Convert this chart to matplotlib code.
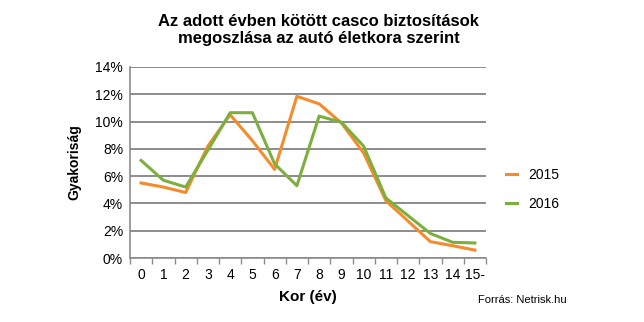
import matplotlib
matplotlib.use("Agg")
import matplotlib.pyplot as plt
import numpy as np
from matplotlib.ticker import FuncFormatter, FixedLocator

plt.rcParams["font.family"] = ["Liberation Sans", "DejaVu Sans"]

ages = ["0", "1", "2", "3", "4", "5", "6", "7", "8", "9", "10", "11", "12", "13", "14", "15-"]
share_2015 = [5.5, 5.2, 4.8, 8.2, 10.5, 8.6, 6.5, 11.85, 11.3, 9.9, 7.7, 4.2, 2.7, 1.2, 0.9, 0.58]
share_2016 = [7.15, 5.7, 5.2, 7.9, 10.65, 10.65, 6.9, 5.3, 10.4, 9.95, 8.2, 4.4, 3.1, 1.8, 1.15, 1.1]

orange = "#F68B2C"
green = "#7BAF3E"
grey = "#8C8C8C"

fig = plt.figure(figsize=(6.44, 3.22), dpi=100)
ax = fig.add_axes([130 / 644, 1 - 258 / 322, (486 - 130) / 644, (258 - 67) / 322])

x = np.arange(len(ages))
ax.plot(x, share_2015, color=orange, lw=2.2, label="2015", zorder=3)
ax.plot(x, share_2016, color=green, lw=2.2, label="2016", zorder=4)

ax.set_xlim(-0.5, len(ages) - 0.5)
ax.set_ylim(0, 14)
ax.set_yticks(np.arange(0, 15, 2))
ax.yaxis.set_major_formatter(FuncFormatter(lambda v, p: f"{v:.0f}%"))
ax.yaxis.grid(True, color=grey, lw=1.4)
ax.set_axisbelow(True)
ax.tick_params(axis="y", length=0, labelsize=10, pad=5)

ax.set_xticks(x)
ax.set_xticklabels(ages)
ax.tick_params(axis="x", which="major", length=0, labelsize=10, pad=7)
ax.xaxis.set_minor_locator(FixedLocator(np.arange(-0.5, len(ages), 1)))
ax.tick_params(axis="x", which="minor", length=4, color=grey, width=1)

for s in ["top", "right"]:
    ax.spines[s].set_visible(False)
for s in ["left", "bottom"]:
    ax.spines[s].set_color(grey)
    ax.spines[s].set_linewidth(1.2)

ax.set_xlabel("Kor (év)", fontsize=11, fontweight="bold", labelpad=6)
ax.set_ylabel("Gyakoriság", fontsize=10, fontweight="bold", labelpad=10)

fig.text(0.495, 1 - 30 / 322, "Az adott évben kötött casco biztosítások\nmegoszlása az autó életkora szerint",
         ha="center", va="center", fontsize=12, fontweight="bold", linespacing=1.1)

ax.legend(loc="center left", bbox_to_anchor=(1.02, 0.36), frameon=False,
          fontsize=10, handlelength=0.8, handletextpad=0.8, labelspacing=1.1)

fig.text(478 / 644, 1 - 300 / 322, "Forrás: Netrisk.hu", fontsize=8, va="center")

fig.savefig("out.png", dpi=100)
